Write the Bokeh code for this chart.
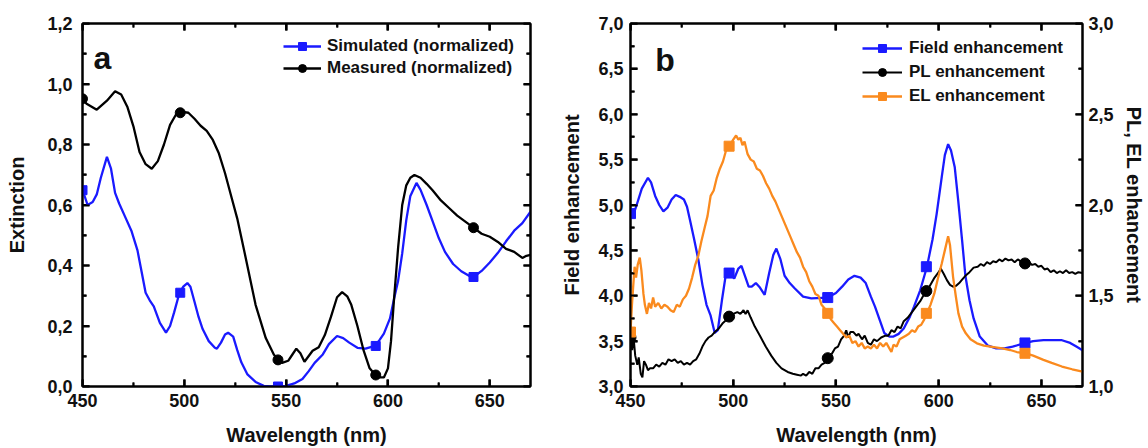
from bokeh.plotting import figure
from bokeh.models import (Range1d, LinearAxis, FixedTicker, CustomJSTickFormatter,
                          Legend, LegendItem, Label)
from bokeh.layouts import row
from bokeh.embed import file_html
from bokeh.resources import INLINE

# ---------------- ticks ----------------
x_major = [450, 500, 550, 600, 650]
x_minor = [475, 525, 575, 625]
ya_major = [0.0, 0.2, 0.4, 0.6, 0.8, 1.0, 1.2]
ya_minor = [0.1, 0.3, 0.5, 0.7, 0.9, 1.1]
yb_major = [3.0, 3.5, 4.0, 4.5, 5.0, 5.5, 6.0, 6.5, 7.0]
yb_minor = [3.25, 3.75, 4.25, 4.75, 5.25, 5.75, 6.25, 6.75]
yr_major = [1.0, 1.5, 2.0, 2.5, 3.0]
yr_minor = [1.25, 1.75, 2.25, 2.75]

# ---------------- Panel a data ----------------
meas_x = [450, 452, 457, 462, 466, 469, 472, 475, 478, 481, 484, 487, 490, 493, 496, 499, 502, 505,
          508, 511, 514, 517, 520, 523, 526, 530, 535, 540, 544, 548, 551, 553, 555, 557, 559, 561,
          563, 566, 569, 572, 575, 577.5, 580, 582, 585, 588, 591, 594, 596, 598, 600, 601.5, 603,
          605, 607, 609, 611, 613, 616, 619, 622, 626, 630, 634, 638, 642, 646, 650, 654, 658, 662,
          666, 668, 670]
meas_y = [0.951, 0.935, 0.915, 0.945, 0.976, 0.965, 0.925, 0.86, 0.775, 0.735, 0.72, 0.745, 0.80,
          0.865, 0.90, 0.908, 0.905, 0.885, 0.862, 0.845, 0.815, 0.77, 0.705, 0.63, 0.555, 0.43,
          0.27, 0.16, 0.105, 0.078, 0.085, 0.105, 0.125, 0.11, 0.082, 0.10, 0.118, 0.13, 0.17, 0.23,
          0.295, 0.312, 0.298, 0.27, 0.20, 0.12, 0.06, 0.037, 0.03, 0.03, 0.06, 0.15, 0.29, 0.46,
          0.60, 0.665, 0.69, 0.699, 0.69, 0.67, 0.648, 0.615, 0.59, 0.565, 0.545, 0.525, 0.505,
          0.495, 0.478, 0.455, 0.445, 0.425, 0.432, 0.435]
sim_x = [450, 451, 452.5, 455, 457, 459, 462, 464, 466, 468, 471, 474, 477, 479, 481, 483, 485, 488,
         491, 493, 495, 497.6, 499.5, 501.5, 503, 505, 507, 509, 512, 515, 516, 518, 520, 521.5, 524,
         526, 528, 531, 535, 539, 542, 546, 550, 554, 558, 561, 564, 568, 571, 575, 578, 581, 585,
         589, 593.6, 596, 598, 601, 603, 605, 607, 609, 611, 614, 616, 619, 622, 625, 628, 632, 636,
         640, 642, 646, 650, 654, 658, 662, 666, 670]
sim_y = [0.649, 0.63, 0.60, 0.61, 0.635, 0.69, 0.759, 0.72, 0.64, 0.605, 0.56, 0.515, 0.45, 0.38,
         0.31, 0.285, 0.265, 0.21, 0.178, 0.20, 0.245, 0.309, 0.33, 0.342, 0.33, 0.28, 0.23, 0.19,
         0.15, 0.128, 0.125, 0.145, 0.172, 0.178, 0.165, 0.12, 0.08, 0.04, 0.015, 0.002, 0.0, 0.0,
         0.002, 0.01, 0.025, 0.05, 0.078, 0.106, 0.14, 0.167, 0.16, 0.145, 0.128, 0.125, 0.134,
         0.155, 0.175, 0.225, 0.29, 0.35, 0.44, 0.55, 0.63, 0.673, 0.65, 0.60, 0.545, 0.49, 0.445,
         0.405, 0.381, 0.365, 0.362, 0.382, 0.41, 0.442, 0.48, 0.515, 0.54, 0.578]
mark_a_x = [450, 498, 546, 594, 642]
sim_mark_y = [0.649, 0.31, 0.0, 0.134, 0.362]
meas_mark_y = [0.951, 0.905, 0.088, 0.038, 0.525]

# ---------------- Panel b data ----------------
field_x = [450, 451.5, 453, 455.5, 458.5, 460, 462, 464, 466, 468, 470, 472, 474, 476, 477.5, 479,
           481, 483, 485, 487, 489, 491, 492.5, 494.5, 496.5, 498, 500.5, 502.5, 504, 506, 507.5,
           509, 511, 513, 515.3, 517.5, 519.5, 521, 523, 525, 527.5, 530, 534, 538, 546, 550, 553,
           556, 559, 562, 564.5, 567, 569, 571.5, 573.5, 576, 578, 580.5, 583, 586, 588, 591, 594.3,
           597, 599, 601.5, 603, 604.6, 606, 607.8, 609.5, 611.4, 613, 615, 617, 620, 624, 628, 632,
           636, 642.4, 646, 651, 656, 660, 664, 667, 670]
field_y = [4.905, 4.9, 5.0, 5.18, 5.30, 5.25, 5.10, 5.00, 4.93, 4.97, 5.06, 5.11, 5.09, 5.06, 4.98,
           4.83, 4.62, 4.40, 4.12, 3.90, 3.78, 3.59, 3.62, 3.95, 4.25, 4.26, 4.19, 4.30, 4.33, 4.20,
           4.10, 4.10, 4.14, 4.09, 4.01, 4.25, 4.45, 4.52, 4.40, 4.22, 4.14, 4.08, 3.99, 3.97, 3.98,
           4.03, 4.10, 4.18, 4.22, 4.20, 4.14, 3.99, 3.88, 3.72, 3.59, 3.55, 3.55, 3.58, 3.64, 3.77,
           3.88, 4.06, 4.32, 4.62, 4.90, 5.31, 5.55, 5.67, 5.60, 5.42, 5.05, 4.61, 4.22, 3.95, 3.75,
           3.55, 3.45, 3.42, 3.42, 3.44, 3.48, 3.50, 3.51, 3.51, 3.51, 3.48, 3.44, 3.40]
pl_x = [450, 450.8, 451.5, 452.3, 453.3, 454, 455, 455.8, 456.6, 457.5, 458.5, 459.5, 461, 462.5,
        464, 465.5, 467, 468.5, 470, 471.5, 473, 474.5, 476, 477.5, 479, 480.5, 482, 483.5, 485,
        486.5, 488, 489.5, 491, 493, 495, 497, 498.2, 500, 502, 503.5, 505, 506, 507, 508.5, 510.5,
        513, 515.8, 518.5, 521, 523.5, 526.5, 529, 531, 533, 534, 535.5, 537, 538.5, 540, 541.5,
        543, 544.5, 546, 548, 549.5, 551, 552.5, 554, 555, 556, 557, 558.5, 560, 561, 562.7, 564,
        565.5, 567, 568.5, 570, 572, 574, 575.5, 577, 578.5, 580, 581.5, 583, 585, 587, 589, 591,
        592.5, 594.3, 596, 598, 600, 601, 602.5, 604, 605.5, 607, 608.5, 610, 611.5, 613, 615, 617,
        619, 620.5, 622, 623.5, 625, 626.5, 628, 629.5, 631, 632.5, 634, 635.5, 637, 638.5, 640,
        642.4, 644, 645.5, 647, 648.5, 650, 651.5, 653, 654.5, 656, 657.5, 659, 660.5, 662, 663.5,
        665, 666.5, 668, 670]
pl_y = [1.29, 1.20, 1.27, 1.17, 1.12, 1.16, 1.07, 1.05, 1.14, 1.12, 1.09, 1.10, 1.10, 1.12, 1.11,
        1.13, 1.12, 1.15, 1.14, 1.15, 1.13, 1.14, 1.12, 1.13, 1.12, 1.14, 1.15, 1.18, 1.22, 1.25,
        1.27, 1.28, 1.30, 1.32, 1.35, 1.37, 1.385, 1.40, 1.41, 1.40, 1.42, 1.40, 1.42, 1.38, 1.33,
        1.28, 1.22, 1.17, 1.13, 1.10, 1.08, 1.07, 1.065, 1.06, 1.07, 1.06, 1.08, 1.07, 1.10, 1.10,
        1.12, 1.13, 1.156, 1.18, 1.21, 1.22, 1.26, 1.28, 1.31, 1.27, 1.30, 1.30, 1.28, 1.29, 1.26,
        1.28, 1.24, 1.23, 1.26, 1.25, 1.27, 1.28, 1.28, 1.31, 1.30, 1.33, 1.32, 1.36, 1.38, 1.41,
        1.44, 1.47, 1.50, 1.526, 1.56, 1.60, 1.63, 1.65, 1.62, 1.586, 1.56, 1.55, 1.555, 1.57,
        1.59, 1.61, 1.63, 1.655, 1.66, 1.675, 1.665, 1.685, 1.675, 1.69, 1.685, 1.70, 1.69, 1.705,
        1.695, 1.70, 1.685, 1.70, 1.69, 1.678, 1.685, 1.67, 1.675, 1.66, 1.665, 1.645, 1.65, 1.63,
        1.64, 1.625, 1.635, 1.625, 1.64, 1.625, 1.63, 1.62, 1.63, 1.625]
el_x = [450, 450.7, 451.3, 452, 452.7, 453.5, 454.5, 455.3, 456.3, 457, 458, 459, 460, 461, 462,
        463.5, 465, 466.5, 468, 469.5, 471, 472.5, 474, 475.5, 477, 478.5, 480, 481.5, 483, 484.5,
        486, 487.5, 489, 490.5, 492, 493.5, 495, 496.5, 497.4, 498.5, 500, 501.4, 502.5, 503.5,
        504.5, 505.5, 507, 508.5, 510, 511.5, 513, 514.5, 516, 517.5, 519, 520.5, 522, 523.5, 525,
        526.5, 528, 529.5, 531, 532.5, 534, 535.5, 537, 538.5, 540, 541.5, 543, 544.5, 546.1,
        547.5, 549, 550.5, 552, 553.5, 555, 556.5, 558, 559.5, 561, 562.5, 564, 565.5, 567, 568.5,
        570, 571.5, 573, 574.5, 576, 577, 578, 579.5, 581, 582.5, 584, 585.5, 587, 588.5, 590,
        591.5, 593, 594.3, 596, 597.9, 599.5, 601.5, 603, 604.6, 605.5, 607, 608.3, 609.6, 611.4,
        613.2, 615.5, 618.6, 622, 627.6, 631, 634.8, 638, 642.4, 646, 651, 655, 660, 665, 670]
el_y = [1.30, 1.45, 1.55, 1.66, 1.60, 1.67, 1.71, 1.64, 1.51, 1.45, 1.40, 1.46, 1.43, 1.49, 1.44,
        1.46, 1.43, 1.45, 1.44, 1.42, 1.41, 1.45, 1.44, 1.48, 1.50, 1.54, 1.60, 1.67, 1.72, 1.80,
        1.87, 1.94, 2.05, 2.08, 2.15, 2.20, 2.24, 2.30, 2.324, 2.33, 2.36, 2.383, 2.36, 2.37, 2.33,
        2.35, 2.28, 2.25, 2.24, 2.20, 2.19, 2.16, 2.12, 2.09, 2.05, 2.02, 1.98, 1.94, 1.90, 1.86,
        1.82, 1.78, 1.74, 1.71, 1.66, 1.63, 1.58, 1.55, 1.51, 1.50, 1.45, 1.43, 1.403, 1.37, 1.35,
        1.33, 1.31, 1.29, 1.27, 1.28, 1.24, 1.25, 1.22, 1.24, 1.21, 1.22, 1.21, 1.23, 1.21, 1.24,
        1.22, 1.24, 1.21, 1.19, 1.23, 1.22, 1.26, 1.27, 1.28, 1.29, 1.31, 1.30, 1.33, 1.34, 1.37,
        1.403, 1.45, 1.513, 1.59, 1.678, 1.75, 1.828, 1.78, 1.604, 1.50, 1.403, 1.33, 1.293, 1.26,
        1.238, 1.225, 1.216, 1.21, 1.201, 1.19, 1.183, 1.17, 1.147, 1.13, 1.11, 1.095, 1.082]
mark_b_x = [450, 498, 546, 594, 642]
field_mark_y = [4.905, 4.25, 3.98, 4.32, 3.48]
pl_mark_y = [1.27, 1.385, 1.156, 1.526, 1.678]
el_mark_y = [1.30, 2.324, 1.403, 1.403, 1.183]

FONT = "Liberation Sans"
BLUE = "#1a1aff"
ORANGE = "#fa8a1e"
TXT = "#111111"
TICK_FMT = "return tick.toFixed(1).replace('.', ',')"
FRAME_H = 364.0
FRAME_W = 449.0
MAJ_PX, MIN_PX = 7.0, 4.0


def style_axis(ax, show_labels=True, fmt=None):
    ax.axis_line_width = 2
    ax.axis_line_color = "black"
    ax.major_tick_in = 7
    ax.major_tick_out = 0
    ax.minor_tick_in = 4
    ax.minor_tick_out = 0
    ax.major_tick_line_width = 2.2
    ax.minor_tick_line_width = 1.8
    ax.major_tick_line_color = "black"
    ax.minor_tick_line_color = "black"
    ax.major_label_text_font = FONT
    ax.major_label_text_font_style = "bold"
    ax.major_label_text_font_size = "18px"
    ax.major_label_text_color = TXT
    ax.axis_label_text_font = FONT
    ax.axis_label_text_font_style = "bold"
    ax.axis_label_text_font_size = "20px"
    ax.axis_label_text_color = TXT
    if fmt is not None:
        ax.formatter = fmt
    if not show_labels:
        ax.major_label_text_font_size = "1px"
        ax.major_label_text_alpha = 0
        ax.major_label_standoff = 0


def base_fig(width, bl, br, yr):
    p = figure(width=width, height=448, output_backend="svg", toolbar_location=None,
               x_range=Range1d(450, 670), y_range=yr,
               min_border_left=bl, min_border_right=br, min_border_top=23, min_border_bottom=61)
    p.xgrid.visible = False
    p.ygrid.visible = False
    p.outline_line_color = "black"
    p.outline_line_width = 2
    return p


def x_edge_ticks(p, y_lo, y_hi):
    dy = (y_hi - y_lo) / FRAME_H
    for ticks, ln, lw in ((x_major, MAJ_PX, 2.2), (x_minor, MIN_PX, 1.8)):
        n = len(ticks)
        p.segment(x0=ticks, x1=ticks, y0=[y_lo] * n, y1=[y_lo + ln * dy] * n,
                  line_color="black", line_width=lw)
        p.segment(x0=ticks, x1=ticks, y0=[y_hi] * n, y1=[y_hi - ln * dy] * n,
                  line_color="black", line_width=lw)


def y_edge_ticks(p, ymaj, ymin, side, **kw):
    dx = 220.0 / FRAME_W
    sign = 1 if side == 450 else -1
    for ticks, ln, lw in ((ymaj, MAJ_PX, 2.2), (ymin, MIN_PX, 1.8)):
        n = len(ticks)
        p.segment(x0=[side] * n, x1=[side + sign * ln * dx] * n, y0=ticks, y1=ticks,
                  line_color="black", line_width=lw, **kw)


# ---------------- Panel a ----------------
pa = base_fig(558, 82, 28, Range1d(0, 1.20001))
pa.xaxis.ticker = FixedTicker(ticks=x_major, minor_ticks=x_minor)
pa.yaxis.ticker = FixedTicker(ticks=ya_major, minor_ticks=ya_minor)
for ax in pa.xaxis:
    style_axis(ax)
    ax.axis_label = "Wavelength (nm)"
    ax.major_label_standoff = 7
    ax.axis_label_standoff = 14
for ax in pa.yaxis:
    style_axis(ax, fmt=CustomJSTickFormatter(code=TICK_FMT))
    ax.axis_label = "Extinction"
    ax.major_label_standoff = 10
    ax.axis_label_standoff = 16
top_a = LinearAxis(ticker=FixedTicker(ticks=x_major, minor_ticks=x_minor))
style_axis(top_a, show_labels=False)
pa.add_layout(top_a, "above")
right_a = LinearAxis(ticker=FixedTicker(ticks=ya_major, minor_ticks=ya_minor))
style_axis(right_a, show_labels=False)
pa.add_layout(right_a, "right")

x_edge_ticks(pa, 0.0, 1.2)
y_edge_ticks(pa, ya_major, ya_minor, 450)
y_edge_ticks(pa, ya_major, ya_minor, 670)

l_sim = pa.line(sim_x, sim_y, line_color=BLUE, line_width=2.3)
l_meas = pa.line(meas_x, meas_y, line_color="black", line_width=2.3)
m_sim = pa.scatter(mark_a_x, sim_mark_y, marker="square", size=9, color=BLUE)
m_meas = pa.scatter(mark_a_x, meas_mark_y, marker="circle", size=10, color="black")

leg_a = Legend(items=[LegendItem(label="Simulated (normalized)", renderers=[l_sim, m_sim]),
                      LegendItem(label="Measured (normalized)", renderers=[l_meas, m_meas])],
               location=(201, 308), padding=0, spacing=2, glyph_width=38, glyph_height=20,
               label_height=20, label_standoff=6, border_line_alpha=0, background_fill_alpha=0,
               label_text_font=FONT, label_text_font_style="bold", label_text_font_size="17px",
               label_text_color=TXT, margin=0)
pa.add_layout(leg_a)
pa.add_layout(Label(x=455.4, y=1.085, text="a", text_font=FONT, text_font_style="bold",
                    text_font_size="32px", text_color=TXT, text_baseline="alphabetic"))

# ---------------- Panel b ----------------
pb = base_fig(590, 72, 66, Range1d(3, 7))
pb.extra_y_ranges = {"pl": Range1d(1, 3)}
pb.xaxis.ticker = FixedTicker(ticks=x_major, minor_ticks=x_minor)
pb.yaxis.ticker = FixedTicker(ticks=yb_major, minor_ticks=yb_minor)
for ax in pb.xaxis:
    style_axis(ax)
    ax.axis_label = "Wavelength (nm)"
    ax.major_label_standoff = 7
    ax.axis_label_standoff = 14
for ax in pb.yaxis:
    style_axis(ax, fmt=CustomJSTickFormatter(code=TICK_FMT))
    ax.axis_label = "Field enhancement"
    ax.major_label_standoff = 7
    ax.axis_label_standoff = 12
top_b = LinearAxis(ticker=FixedTicker(ticks=x_major, minor_ticks=x_minor))
style_axis(top_b, show_labels=False)
pb.add_layout(top_b, "above")
right_b = LinearAxis(y_range_name="pl", ticker=FixedTicker(ticks=yr_major, minor_ticks=yr_minor),
                     formatter=CustomJSTickFormatter(code=TICK_FMT), axis_label="PL, EL enhancement")
style_axis(right_b)
right_b.major_label_standoff = 6
right_b.axis_label_standoff = 6
pb.add_layout(right_b, "right")

x_edge_ticks(pb, 3.0, 7.0)
y_edge_ticks(pb, yb_major, yb_minor, 450)
y_edge_ticks(pb, yr_major, yr_minor, 670, y_range_name="pl")

l_field = pb.line(field_x, field_y, line_color=BLUE, line_width=2.3)
l_pl = pb.line(pl_x, pl_y, line_color="black", line_width=2, y_range_name="pl")
l_el = pb.line(el_x, el_y, line_color=ORANGE, line_width=2.3, y_range_name="pl")
m_field = pb.scatter(mark_b_x, field_mark_y, marker="square", size=10, color=BLUE)
m_pl = pb.scatter(mark_b_x, pl_mark_y, marker="circle", size=11, color="black", y_range_name="pl")
m_el = pb.scatter(mark_b_x, el_mark_y, marker="square", size=10, color=ORANGE, y_range_name="pl")

leg_b = Legend(items=[LegendItem(label="Field enhancement", renderers=[l_field, m_field]),
                      LegendItem(label="PL enhancement", renderers=[l_pl, m_pl]),
                      LegendItem(label="EL enhancement", renderers=[l_el, m_el])],
               location=(232, 280), padding=0, spacing=4, glyph_width=40, glyph_height=20,
               label_height=20, label_standoff=7, border_line_alpha=0, background_fill_alpha=0,
               label_text_font=FONT, label_text_font_style="bold", label_text_font_size="17px",
               label_text_color=TXT, margin=0)
pb.add_layout(leg_b)
pb.add_layout(Label(x=462.1, y=6.593, text="b", text_font=FONT, text_font_style="bold",
                    text_font_size="32px", text_color=TXT, text_baseline="alphabetic"))

layout = row(pa, pb, spacing=0)
open("out.html", "w").write(file_html(layout, INLINE))
